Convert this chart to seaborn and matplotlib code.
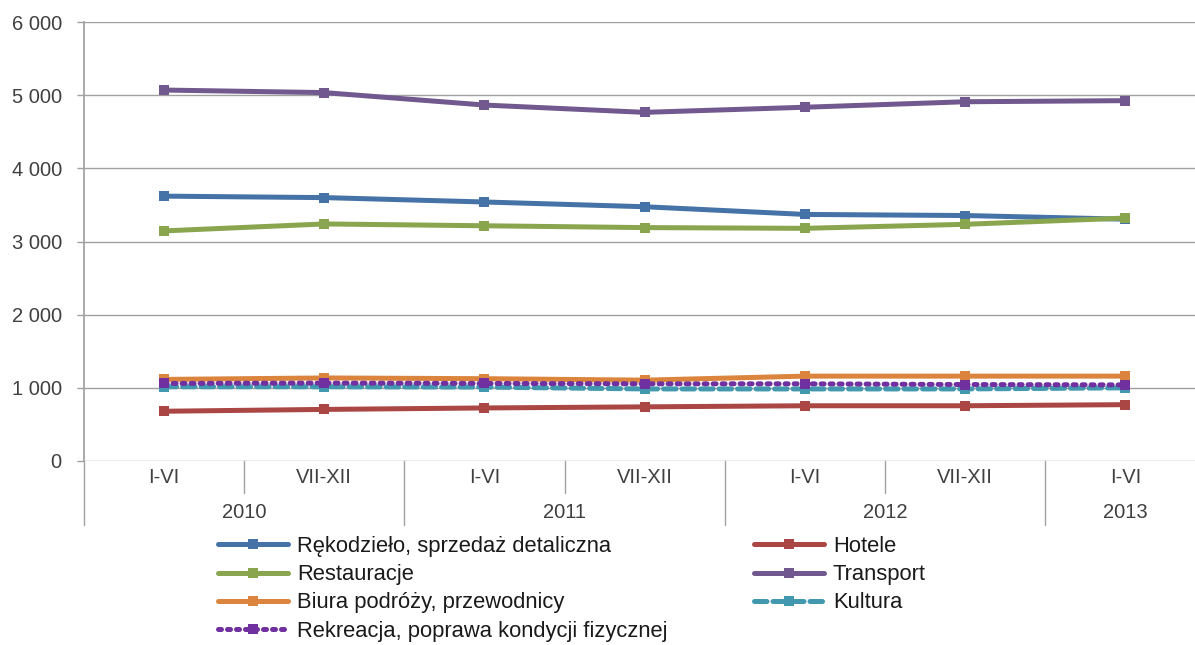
import matplotlib
matplotlib.use("Agg")
import matplotlib.pyplot as plt
from matplotlib.lines import Line2D
from matplotlib.ticker import FuncFormatter
import numpy as np
import pandas as pd
import seaborn as sns

# Half-year periods and the year each belongs to
periods = ["I-VI", "VII-XII", "I-VI", "VII-XII", "I-VI", "VII-XII", "I-VI"]
years = ["2010", "2011", "2012", "2013"]
periods_per_year = [2, 2, 2, 1]

# Series values
rekodzielo = [3620, 3600, 3540, 3475, 3370, 3355, 3305]
hotele = [680, 705, 725, 740, 755, 755, 770]
restauracje = [3145, 3240, 3215, 3190, 3180, 3235, 3320]
transport = [5070, 5035, 4865, 4765, 4835, 4910, 4925]
biura = [1115, 1135, 1125, 1105, 1160, 1160, 1160]
kultura = [1015, 1015, 1010, 985, 985, 985, 1000]
rekreacja = [1060, 1065, 1060, 1055, 1055, 1045, 1040]

series = [
    ("Rękodzieło, sprzedaż detaliczna", rekodzielo, "#4572A7", "-"),
    ("Hotele", hotele, "#AA4643", "-"),
    ("Restauracje", restauracje, "#89A54E", "-"),
    ("Transport", transport, "#71588F", "-"),
    ("Biura podróży, przewodnicy", biura, "#DB843D", "-"),
    ("Kultura", kultura, "#4198AF", (0, (2.5, 1.2))),
    ("Rekreacja, poprawa kondycji fizycznej", rekreacja, "#7030A0", (0, (0.6, 1.2))),
]

sns.set_theme(style="white")
plt.rcParams["font.family"] = ["Liberation Sans", "DejaVu Sans"]

fig = plt.figure(figsize=(11.95, 6.45), dpi=100, facecolor="white")
ax = fig.add_axes([84 / 1195, 1 - 461 / 645, 1 - 84 / 1195, 439 / 645])

x = np.arange(len(periods))
grid_color = "#A0A0A0"
text_color = "#404040"
tick_fs = 14.5
legend_fs = 15.8

handles = {}
for name, vals, color, ls in series:
    df = pd.DataFrame({"x": x, "y": vals})
    sns.lineplot(data=df, x="x", y="y", ax=ax, color=color, linestyle=ls,
                 linewidth=3.6, marker="s", markersize=7.5, markeredgewidth=0,
                 dash_capstyle="round" if ls != "-" else "butt", legend=False)
    handles[name] = Line2D([], [], color=color, linestyle=ls, linewidth=3.6,
                           marker="s", markersize=7.5, markeredgewidth=0,
                           dash_capstyle="round" if ls != "-" else "butt")

ax.set_ylim(0, 6000)
ax.set_xlim(-0.5, -0.5 + (1195 - 84) / 160.2)
ax.set_yticks(range(0, 6001, 1000))
ax.yaxis.set_major_formatter(FuncFormatter(lambda v, p: f"{int(v):,}".replace(",", " ")))
ax.grid(axis="y", color=grid_color, linewidth=1)
ax.set_axisbelow(True)
for s in ["top", "right", "bottom"]:
    ax.spines[s].set_visible(False)
ax.spines["left"].set_color(grid_color)
ax.tick_params(axis="y", length=5, width=1, color=grid_color, direction="out",
               labelsize=tick_fs, labelcolor=text_color, pad=11, left=True)
ax.set_xticks(x)
ax.set_xticklabels(periods)
ax.tick_params(axis="x", length=0, labelsize=tick_fs, labelcolor=text_color, pad=5)
ax.set_xlabel("")
ax.set_ylabel("")

# two-level category axis: separators and year labels
trans = ax.get_xaxis_transform()
short_drop = -(493 - 461) / 439
long_drop = -(525 - 461) / 439
ax.plot([-0.5, -0.5], [0, long_drop], color=grid_color, lw=1, transform=trans, clip_on=False)
start = 0
for yr, n in zip(years, periods_per_year):
    center = start + (n - 1) / 2
    ax.text(center, -(512 - 461) / 439, yr, transform=trans, ha="center", va="center",
            fontsize=tick_fs, color=text_color)
    for k in range(1, n):
        b = start + k - 0.5
        ax.plot([b, b], [0, short_drop], color=grid_color, lw=1, transform=trans, clip_on=False)
    end = start + n - 0.5
    if end < len(periods) - 0.5:
        ax.plot([end, end], [0, long_drop], color=grid_color, lw=1, transform=trans, clip_on=False)
    start += n

order = [0, 2, 4, 6, 1, 3, 5]
leg = fig.legend([handles[series[i][0]] for i in order], [series[i][0] for i in order],
                 loc="upper left", bbox_to_anchor=(218 / 1195, 1 - 536 / 645), ncol=2,
                 frameon=False, fontsize=legend_fs, handlelength=3.2, handletextpad=0.42,
                 labelspacing=0.33, columnspacing=3.9, borderpad=0, borderaxespad=0)
for t in leg.get_texts():
    t.set_color("#1a1a1a")

fig.savefig("out.png", dpi=100, facecolor="white")
